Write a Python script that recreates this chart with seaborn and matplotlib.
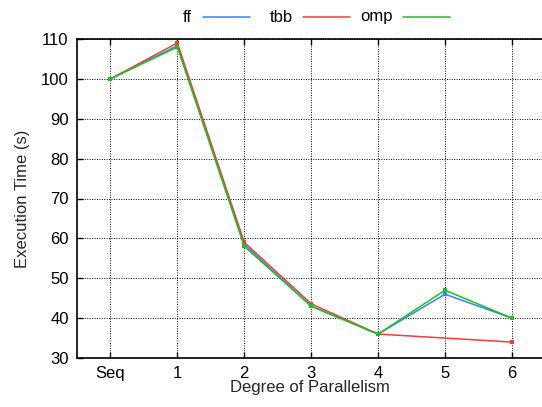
import matplotlib
matplotlib.use("Agg")
import matplotlib.pyplot as plt
import seaborn as sns
import pandas as pd
import numpy as np
from matplotlib.lines import Line2D

categories = ["Seq", "1", "2", "3", "4", "5", "6"]
ff_x = [0, 1, 2, 3, 4, 5, 6]
ff = [100, 108.3, 58.5, 43, 36, 46, 40]
tbb_x = [0, 1, 2, 3, 4, 6]
tbb = [100, 109, 59, 43.6, 36, 34]
omp_x = [0, 1, 2, 3, 4, 5, 6]
omp = [100, 108, 58, 43, 36, 47, 40]
series_names = ["ff", "tbb", "omp"]

rows = []
for name, xs, ys in [("ff", ff_x, ff), ("tbb", tbb_x, tbb), ("omp", omp_x, omp)]:
    for x, y in zip(xs, ys):
        rows.append({"x": x, "y": y, "series": name})
df = pd.DataFrame(rows)

sns.set_theme(style="white")
plt.rcParams['font.family'] = ['Liberation Sans', 'DejaVu Sans']

colors = {"ff": "#2f86ff", "tbb": "#f03c3c", "omp": "#1fbf1f"}

W, H = 542, 407
fig = plt.figure(figsize=(W / 100, H / 100), dpi=100)
ax = fig.add_axes([77/W, 1 - 358/H, 1 - 77/W, (358 - 39)/H])

sns.lineplot(data=df, x="x", y="y", hue="series", palette=colors,
             marker="s", markersize=3.5, markeredgewidth=0, linewidth=1.1,
             ax=ax, legend=False, sort=False)

ax.set_xlim(-0.5, 6.45)
ax.set_ylim(30, 110)
ax.set_xticks(range(len(categories)))
ax.set_xticklabels(categories)
ax.set_yticks(range(30, 111, 10))
ax.grid(True, color="black", linestyle=(0, (1, 1.5)), linewidth=0.7)
ax.tick_params(axis="both", direction="in", length=4, width=1, colors="black",
               labelsize=12, top=True, right=False, bottom=True, left=True, pad=6)
for s in ["left", "bottom", "top"]:
    ax.spines[s].set_color("black")
    ax.spines[s].set_linewidth(1.2)
ax.spines["right"].set_visible(False)
ax.set_xlabel("Degree of Parallelism", fontsize=12, labelpad=-1)
ax.set_ylabel("Execution Time (s)", fontsize=12, labelpad=8)

# legend drawn in figure pixel coordinates, gnuplot-style (text then line)
leg_y = 1 - 17/H
entries = [("ff", 192, 203, 250), ("tbb", 293, 303, 350), ("omp", 393, 403, 450)]
for name, tx, x0, x1 in entries:
    fig.text(tx/W, leg_y, name, ha="right", va="center", fontsize=12, color="black")
    fig.add_artist(Line2D([x0/W, x1/W], [leg_y, leg_y], color=colors[name],
                          linewidth=1.1, transform=fig.transFigure))

fig.savefig("out.png", dpi=100)
